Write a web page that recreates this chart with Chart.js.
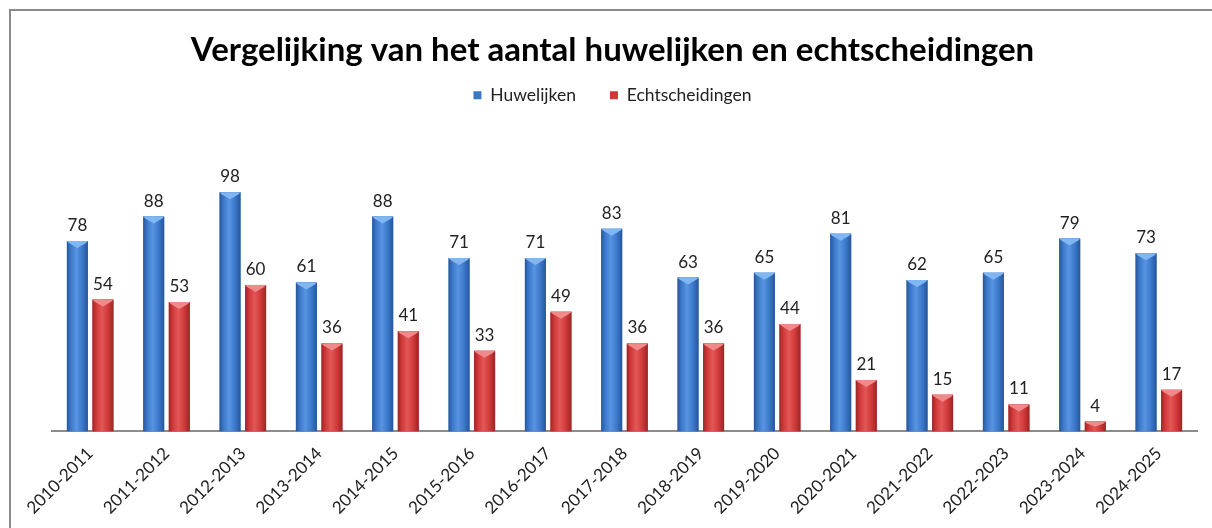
<!DOCTYPE html>
<html>
<head>
<meta charset="utf-8">
<script src="https://cdn.jsdelivr.net/npm/chart.js@4.4.1/dist/chart.umd.min.js"></script>
<style>
  html, body { margin: 0; padding: 0; background: #fff; }
  #wrap { position: relative; width: 1212px; height: 528px; overflow: hidden; }
  #frame { position: absolute; left: 9px; top: 9px; width: 1240px; height: 560px; border: 2px solid #8a8a8a; }
  canvas { position: absolute; left: 0; top: 0; }
</style>
</head>
<body>
<div id="wrap">
  <div id="frame"></div>
  <canvas id="c" width="1212" height="528"></canvas>
</div>
<script>
const categories = ["2010-2011","2011-2012","2012-2013","2013-2014","2014-2015","2015-2016","2016-2017","2017-2018","2018-2019","2019-2020","2020-2021","2021-2022","2022-2023","2023-2024","2024-2025"];
const huwelijken = [78, 88, 98, 61, 88, 71, 71, 83, 63, 65, 81, 62, 65, 79, 73];
const echtscheidingen = [54, 53, 60, 36, 41, 33, 49, 36, 36, 44, 21, 15, 11, 4, 17];
const seriesNames = ["Huwelijken", "Echtscheidingen"];
const titleText = "Vergelijking van het aantal huwelijken en echtscheidingen";

const FONT = "Lato, 'Open Sans', sans-serif";

const shades = [
  { mid: "#3a77c8", light: "#5795e2", dark: "#27569a", cap: "#80b7f2" },
  { mid: "#cf3838", light: "#e45757", dark: "#9a2626", cap: "#f08a8a" }
];

const bevelPlugin = {
  id: "bevel",
  afterDatasetsDraw(chart) {
    const ctx = chart.ctx;
    chart.data.datasets.forEach((ds, di) => {
      const meta = chart.getDatasetMeta(di);
      const s = shades[di];
      meta.data.forEach((bar) => {
        const w = bar.width;
        const left = bar.x - w / 2, right = bar.x + w / 2;
        const top = bar.y, bottom = bar.base;
        ctx.save();
        const g = ctx.createLinearGradient(left, 0, right, 0);
        g.addColorStop(0, s.dark);
        g.addColorStop(0.18, s.mid);
        g.addColorStop(0.45, s.light);
        g.addColorStop(0.75, s.mid);
        g.addColorStop(1, s.dark);
        ctx.fillStyle = g;
        ctx.fillRect(left, top, w, bottom - top);
        const capH = Math.min(7, (bottom - top) / 2);
        ctx.beginPath();
        ctx.moveTo(left, top);
        ctx.lineTo(right, top);
        ctx.lineTo(right - 2, top + 2);
        ctx.lineTo(bar.x, top + capH);
        ctx.lineTo(left + 2, top + 2);
        ctx.closePath();
        ctx.fillStyle = s.cap;
        ctx.fill();
        ctx.restore();
      });
    });
  }
};

const labelPlugin = {
  id: "valueLabels",
  afterDatasetsDraw(chart) {
    const ctx = chart.ctx;
    ctx.save();
    ctx.font = "17px " + FONT;
    ctx.fillStyle = "#222";
    ctx.textAlign = "center";
    ctx.textBaseline = "alphabetic";
    chart.data.datasets.forEach((ds, di) => {
      const meta = chart.getDatasetMeta(di);
      meta.data.forEach((bar, i) => {
        ctx.fillText(String(ds.data[i]), bar.x, bar.y - 10);
      });
    });
    ctx.restore();
  }
};

new Chart(document.getElementById("c"), {
  type: "bar",
  data: {
    labels: categories,
    datasets: [
      { label: seriesNames[0], data: huwelijken, backgroundColor: shades[0].mid, borderWidth: 0 },
      { label: seriesNames[1], data: echtscheidingen, backgroundColor: shades[1].mid, borderWidth: 0 }
    ]
  },
  options: {
    responsive: false,
    animation: false,
    devicePixelRatio: 1,
    layout: { padding: { left: 28, right: 15, top: 31, bottom: 6 } },
    datasets: { bar: { categoryPercentage: 0.67, barPercentage: 0.82 } },
    plugins: {
      title: {
        display: true,
        text: titleText,
        color: "#000",
        font: { family: FONT, size: 33, weight: "bold" },
        padding: { top: 0, bottom: -18 }
      },
      legend: {
        display: true,
        position: "top",
        labels: {
          color: "#222",
          font: { family: FONT, size: 17.5 },
          boxWidth: 8,
          boxHeight: 8,
          padding: 34
        }
      },
      tooltip: { enabled: false }
    },
    scales: {
      x: {
        grid: { display: false },
        border: { display: true, color: "#8c8c8c", width: 2 },
        ticks: {
          color: "#222",
          font: { family: FONT, size: 17 },
          minRotation: 45,
          maxRotation: 45,
          padding: 4
        }
      },
      y: {
        display: true,
        min: 0,
        max: 130,
        grid: { display: false },
        border: { display: false },
        ticks: { display: false },
        afterFit(scale) { scale.width = 24; }
      }
    }
  },
  plugins: [bevelPlugin, labelPlugin]
});
</script>
</body>
</html>
